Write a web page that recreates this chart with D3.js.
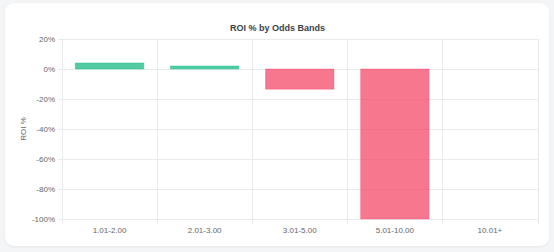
<!DOCTYPE html>
<html><head><meta charset="utf-8">
<script src="https://cdn.jsdelivr.net/npm/d3@7"></script>
<style>
html,body{margin:0;padding:0;background:#f4f5f7;}
body{width:554px;height:252px;overflow:hidden;font-family:"Helvetica Neue",Arial,"Liberation Sans",sans-serif;}
.card{position:absolute;left:5px;top:3px;width:544px;height:243px;background:#fff;border-radius:9px;box-shadow:0 1px 3px rgba(0,0,0,0.06);}
svg{position:absolute;left:0;top:0;}
</style></head><body>
<div class="card"></div>
<svg id="c" width="554" height="252"></svg>
<script>
const categories = ["1.01-2.00","2.01-3.00","3.01-5.00","5.01-10.00","10.01+"];
const roiValues = [4, 2, -13.5, -100, 0];
const yTicks = [20, 0, -20, -40, -60, -80, -100];
const chartTitle = "ROI % by Odds Bands";
const yTitle = "ROI %";

const svg = d3.select("#c");
const m = {l:62, r:537.5, t:39, b:219};
const x = d3.scaleBand().domain(categories).range([m.l, m.r]).paddingInner(0).paddingOuter(0);
const y = d3.scaleLinear().domain([-100, 20]).range([m.b, m.t]);
const grid = "#e9eaee";

// horizontal grid
svg.append("g").selectAll("line").data(yTicks).join("line")
  .attr("x1", m.l - 4).attr("x2", m.r)
  .attr("y1", d => Math.round(y(d)) + 0.5).attr("y2", d => Math.round(y(d)) + 0.5)
  .attr("stroke", grid).attr("stroke-width", 1);
// vertical grid
const vx = categories.map(c => x(c)).concat([m.r]);
svg.append("g").selectAll("line").data(vx).join("line")
  .attr("x1", d => Math.round(d) + 0.5).attr("x2", d => Math.round(d) + 0.5)
  .attr("y1", m.t).attr("y2", m.b + 5)
  .attr("stroke", grid).attr("stroke-width", 1);

// y labels
svg.append("g").selectAll("text").data(yTicks).join("text")
  .attr("x", m.l - 7).attr("y", d => y(d)).attr("dy", "0.35em")
  .attr("text-anchor", "end").attr("font-size", 8).attr("fill", "#666")
  .text(d => d + "%");
// x labels
svg.append("g").selectAll("text").data(categories).join("text")
  .attr("x", d => x(d) + x.bandwidth()/2).attr("y", 233)
  .attr("text-anchor", "middle").attr("font-size", 8).attr("fill", "#666")
  .text(d => d);

// bars
const bw = x.bandwidth() * 0.72;
svg.append("g").selectAll("rect").data(roiValues.map((v,i)=>({c:categories[i], v}))).join("rect")
  .attr("x", d => x(d.c) + (x.bandwidth() - bw)/2)
  .attr("width", bw)
  .attr("y", d => Math.min(y(d.v), y(0)))
  .attr("height", d => Math.abs(y(d.v) - y(0)))
  .attr("fill", d => d.v >= 0 ? "rgba(16,185,129,0.72)" : "rgba(244,63,94,0.7)")
  .attr("stroke", d => d.v >= 0 ? "rgba(16,185,129,0.4)" : "rgba(244,63,94,0.3)")
  .attr("stroke-width", 1);

// title
svg.append("text").attr("x", 277.5).attr("y", 31).attr("text-anchor", "middle")
  .attr("font-size", 9).attr("font-weight", "bold").attr("fill", "#3a3f4a").text(chartTitle);
// y title
svg.append("text").attr("transform", `translate(26,${(m.t+m.b)/2}) rotate(-90)`)
  .attr("text-anchor", "middle").attr("font-size", 8).attr("fill", "#666").text(yTitle);
</script>
</body></html>
